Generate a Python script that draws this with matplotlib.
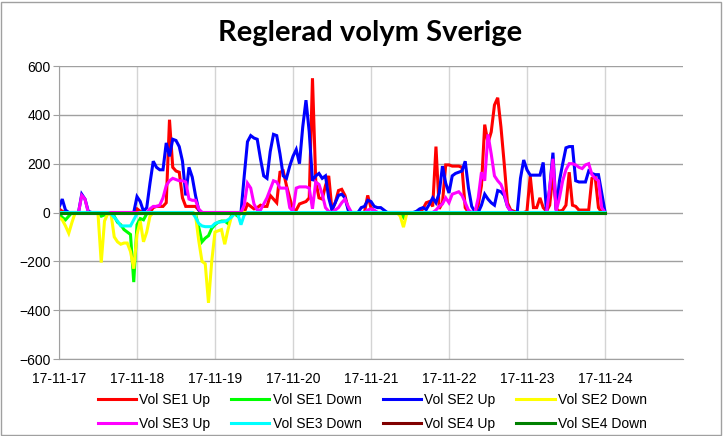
import matplotlib
matplotlib.use("Agg")
import matplotlib.pyplot as plt
import matplotlib.dates as mdates
import pandas as pd
from matplotlib.patches import Rectangle

# hourly values 2017-11-17 00:00 .. 2017-11-24 00:00 (169 points)
times = pd.date_range("2017-11-17", periods=169, freq="h")

se1_up = ([15, 5, 0, 0, 0, 0, 0, 0, 0, 0, 0, 0, 0, 0, 0, 0, 0, 0, 0, 0, 0, 0, 0, 0]
          + [15, 5, 0, 0, 0, 20, 25, 25, 25, 40, 380, 185, 170, 165, 60, 25, 25, 25, 25, 10, 0, 0, 0, 0]
          + [0, 0, 0, 0, 0, 0, 0, 0, 0, 0, 35, 25, 15, 20, 30, 25, 25, 70, 55, 40, 165, 170, 110, 60]
          + [10, 10, 35, 40, 45, 60, 550, 130, 60, 55, 110, 150, 10, 40, 90, 95, 70, 15, 0, 0, 0, 0, 0, 70]
          + [20, 5, 0, 0, 0, 0, 0, 0, 0, 0, 0, 0, 0, 0, 0, 0, 15, 40, 45, 25, 270, 15, 40, 195]
          + [195, 190, 190, 190, 185, 20, 0, 0, 0, 30, 110, 360, 285, 330, 440, 470, 350, 200, 40, 10, 5, 0, 0, 0]
          + [5, 150, 20, 20, 60, 20, 5, 30, 160, 15, 5, 10, 30, 165, 30, 25, 10, 10, 10, 10, 140, 145, 20, 0, 0])

se1_down = ([-5, -20, -30, -15, 0, 0, 0, 0, 0, 0, 0, 0, 0, -15, -10, -5, -5, -15, -40, -50, -70, -80, -90, -285]
            + [-50, -25, -30, -5, 0, 0, 0, 0, 0, 0, 0, 0, 0, 0, 0, 0, 0, 0, -5, -60, -120, -105, -95, -65]
            + [-50, -40, -35, -35, -45, -15, -5, -15, 0, 0, 0, 0, 0, 0, 0, 0, 0, 0, 0, 0, 0, 0, 0, 0]
            + [0] * 24
            + [0, 0, 0, 0, 0, 0, 0, 0, 0, 0, -20, 0, 0, 0, 0, 0, 0, 0, 0, 0, 0, 0, 0, 0]
            + [0] * 24
            + [0] * 25)

se2_up = ([20, 55, 10, 0, 0, 0, 0, 75, 55, 5, 0, 0, 0, 0, 0, 0, 0, 0, 0, 0, 0, 0, 0, 0]
          + [65, 45, 5, 20, 120, 210, 185, 175, 175, 285, 230, 300, 295, 270, 210, 70, 185, 145, 70, 10, 0, 0, 0, 0]
          + [0, 0, 0, 0, 0, 0, 0, 0, 0, 150, 290, 315, 305, 300, 220, 150, 140, 250, 320, 315, 240, 150, 140, 190]
          + [230, 258, 200, 350, 460, 330, 130, 150, 160, 140, 150, 60, 10, 40, 70, 75, 60, 10, 0, 0, 0, 20, 25, 50]
          + [45, 25, 20, 20, 10, 0, 0, 0, 0, 0, 0, 0, 0, 0, 5, 15, 20, 12, 35, 60, 40, 80, 190, 120]
          + [80, 150, 160, 165, 170, 210, 100, 25, 3, 0, 30, 75, 55, 40, 30, 90, 85, 70, 25, 5, 0, 0, 140, 215]
          + [175, 153, 153, 153, 153, 205, 5, 100, 245, 10, 130, 200, 265, 270, 270, 130, 125, 125, 125, 170, 160, 155, 155, 80, 5])

se2_down = ([-20, -30, -55, -85, -40, 0, 0, 0, 0, 0, 0, 0, -5, -205, -35, -5, -5, -100, -120, -130, -125, -125, -160, -230]
            + [-90, -35, -120, -80, -15, 0, 0, 0, 0, 0, 0, 0, 0, 0, 0, 0, 0, 0, -10, -115, -200, -210, -370, -200]
            + [-80, -75, -70, -130, -70, -20, -5, 0, 0, 0, 0, 0, 0, 0, 0, 0, 0, 0, 0, 0, 0, 0, 0, 0]
            + [0] * 24
            + [0, 0, 0, 0, 0, 0, 0, 0, 0, -15, -60, -5, 0, 0, 0, 0, 0, 0, 0, 0, 0, 0, 0, 0]
            + [0] * 24
            + [0] * 25)

se3_up = ([0, 0, 0, 0, 0, 0, 0, 70, 55, 0, 0, 0, 0, 0, 0, 0, 0, 0, 0, 0, 0, 0, 0, 0]
          + [0, 0, 0, 0, 15, 25, 25, 30, 60, 110, 130, 140, 135, 130, 130, 125, 55, 50, 50, 15, 0, 0, 0, 0]
          + [0, 0, 0, 0, 0, 0, 0, 0, 0, 30, 120, 100, 35, 10, 10, 35, 60, 95, 130, 125, 100, 100, 100, 20]
          + [5, 100, 105, 105, 105, 100, 15, 125, 115, 75, 20, 5, 0, 10, 20, 40, 55, 25, 0, 0, 0, 0, 0, 10]
          + [15, 10, 0, 0, 0, 0, 0, 0, 0, 0, 0, 0, 0, 0, 0, 0, 0, 0, 0, 0, 10, 25, 35, 60]
          + [40, 75, 80, 85, 70, 40, 10, 0, 0, 60, 165, 130, 320, 240, 150, 130, 115, 80, 25, 5, 0, 0, 0, 0]
          + [0, 0, 0, 0, 0, 0, 0, 100, 220, 5, 60, 130, 175, 200, 200, 195, 185, 180, 195, 200, 155, 140, 130, 20, 0])

se3_down = ([0, 0, 0, 0, 0, 0, 0, 0, 0, 0, 0, 0, 0, 0, 0, 0, -5, -20, -35, -55, -55, -55, -55, -30]
            + [-5, 0, 0, 0, 0, 0, 0, 0, 0, 0, 0, 0, 0, 0, 0, 0, 0, 0, -20, -45, -55, -58, -58, -58]
            + [-45, -40, -38, -37, -30, -20, -5, -5, -50, -10, 0, 0, 0, 0, 0, 0, 0, 0, 0, 0, 0, 0, 0, 0]
            + [0] * 24 + [0] * 24 + [0] * 24 + [0] * 25)

se4_up = [0] * 169
se4_down = [0] * 169

series = [
    ("Vol SE1 Up", se1_up, "#ff0000"),
    ("Vol SE1 Down", se1_down, "#00ff00"),
    ("Vol SE2 Up", se2_up, "#0000ff"),
    ("Vol SE2 Down", se2_down, "#ffff00"),
    ("Vol SE3 Up", se3_up, "#ff00ff"),
    ("Vol SE3 Down", se3_down, "#00ffff"),
    ("Vol SE4 Up", se4_up, "#800000"),
    ("Vol SE4 Down", se4_down, "#008000"),
]

plt.rcParams["font.family"] = ["Liberation Sans", "DejaVu Sans"]

fig = plt.figure(figsize=(7.23, 4.36), dpi=100)
ax = fig.add_axes([0.0816, 0.1766, 0.863, 0.672])

lines = []
for name, vals, col in series:
    ln, = ax.plot(times, vals, color=col, lw=2.2, label=name, solid_joinstyle="miter")
    lines.append(ln)

ax.set_ylim(-600, 600)
ax.set_yticks(range(-600, 601, 200))
ax.set_xlim(pd.Timestamp("2017-11-17"), pd.Timestamp("2017-11-25"))
ax.set_xticks(pd.date_range("2017-11-17", "2017-11-24", freq="D"))
ax.xaxis.set_major_formatter(mdates.DateFormatter("%y-%m-%d"))

ax.grid(axis="y", color="#a0a0a0", lw=1)
ax.grid(axis="x", color="#d4d4d4", lw=1)
ax.set_axisbelow(True)
for s in ["top", "right"]:
    ax.spines[s].set_visible(False)
ax.spines["left"].set_color("#a0a0a0")
ax.spines["bottom"].set_color("#a0a0a0")
ax.tick_params(axis="y", length=4, color="#a0a0a0", labelsize=10, pad=2)
ax.tick_params(axis="x", length=0, labelsize=10, pad=9)

fig.text(0.512, 0.924, "Reglerad volym Sverige", ha="center", va="center",
         fontsize=21, fontweight="bold", family="Lato")

order = [0, 4, 1, 5, 2, 6, 3, 7]
fig.legend([lines[i] for i in order], [series[i][0] for i in order],
           loc="center", bbox_to_anchor=(0.515, 0.055), ncol=4, frameon=False,
           fontsize=10, handlelength=2.75, handletextpad=0.25, columnspacing=1.5,
           labelspacing=0.75)

fig.patches.append(Rectangle((0.002, 0.003), 0.995, 0.993, transform=fig.transFigure,
                             fill=False, edgecolor="#a0a0a0", lw=1))

plt.savefig("out.png", dpi=100)
